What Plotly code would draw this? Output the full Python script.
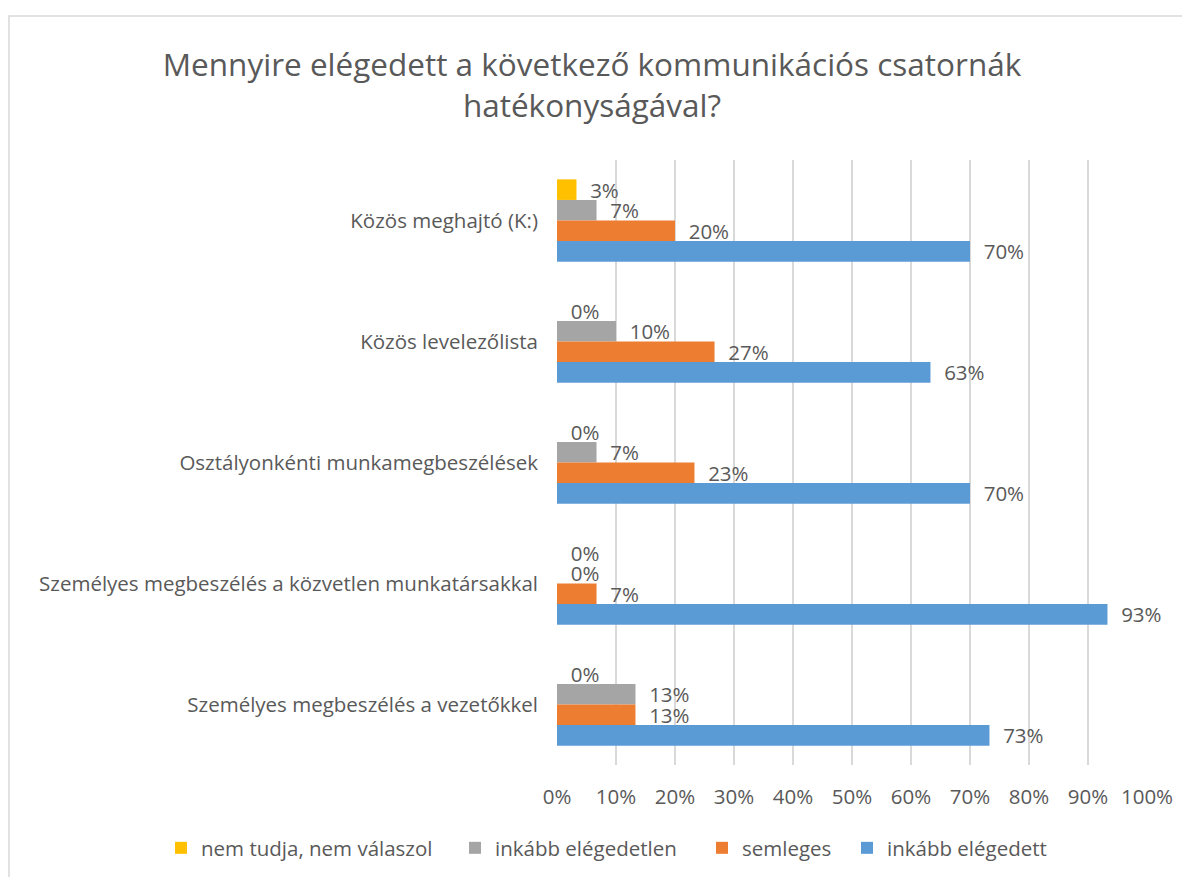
import plotly.graph_objects as go

categories = [
    "Közös meghajtó (K:)",
    "Közös levelezőlista",
    "Osztályonkénti munkamegbeszélések",
    "Személyes megbeszélés a közvetlen munkatársakkal",
    "Személyes megbeszélés a vezetőkkel",
]
series_names = ["nem tudja, nem válaszol", "inkább elégedetlen", "semleges", "inkább elégedett"]
nem_tudja = [3.3, 0, 0, 0, 0]
elegedetlen = [6.7, 10, 6.7, 0, 13.3]
semleges = [20, 26.7, 23.3, 6.7, 13.3]
elegedett = [70, 63.3, 70, 93.3, 73.3]
colors = ["#FFC000", "#A5A5A5", "#ED7D31", "#5B9BD5"]
tick_vals = [0, 10, 20, 30, 40, 50, 60, 70, 80, 90, 100]
tick_text = ["0%", "10%", "20%", "30%", "40%", "50%", "60%", "70%", "80%", "90%", "100%"]

FONT = "Open Sans"
TXT = "#595959"
FS = 20.5

# page has an 8px body offset; coordinates below are figure pixels
W, H = 1190, 877
L, T = 549, 152
pw, ph = 590, 605
R, B = W - L - pw, H - T - ph

legend_ids = ["legend", "legend2", "legend3", "legend4"]
legend_marker_left = [168, 462, 709, 854]

fig = go.Figure()
for name, vals, col, lid in zip(series_names, [nem_tudja, elegedetlen, semleges, elegedett], colors, legend_ids):
    fig.add_trace(go.Bar(
        y=categories, x=vals, name=name, orientation="h",
        marker=dict(color=col, line=dict(width=0)),
        texttemplate="\u00a0\u00a0%{x:.0f}%", textposition="outside",
        constraintext="none",
        textfont=dict(family=FONT, size=FS, color=TXT),
        cliponaxis=False, legend=lid,
    ))

legend_common = dict(
    orientation="h", xref="paper", yref="paper", xanchor="left",
    y=-(840 - (T + ph)) / ph, yanchor="middle",
    font=dict(family=FONT, size=FS, color=TXT), itemwidth=30,
    bgcolor="rgba(0,0,0,0)",
)
legends = {}
for lid, mx in zip(legend_ids, legend_marker_left):
    legends[lid] = dict(legend_common, x=(mx - 15 - L) / pw)

fig.update_layout(
    width=W, height=H,
    margin=dict(l=L, r=R, t=T, b=B),
    paper_bgcolor="white", plot_bgcolor="white",
    barmode="group", bargap=0.32, bargroupgap=0,
    font=dict(family=FONT, color=TXT, size=FS),
    title=dict(
        text="Mennyire elégedett a következő kommunikációs csatornák<br>hatékonyságával?",
        x=(592 - 8) / W, xanchor="center", xref="container",
        y=1 - 68 / H, yanchor="middle", yref="container",
        font=dict(family=FONT, size=31.5, color=TXT),
    ),
    xaxis=dict(
        range=[0, 100], tickvals=tick_vals, ticktext=tick_text,
        showgrid=True, gridcolor="#D9D9D9", gridwidth=1.5,
        zeroline=False, showline=False, ticks="",
        ticklabelstandoff=17,
        tickfont=dict(family=FONT, size=FS, color=TXT),
    ),
    yaxis=dict(
        autorange="reversed", showgrid=False, zeroline=False, showline=False,
        ticks="", ticklabelstandoff=18,
        tickfont=dict(family=FONT, size=FS, color=TXT),
    ),
    showlegend=True,
    **legends,
)

# chart border (partially cropped like the reference)
fig.add_shape(
    type="rect", xref="paper", yref="paper",
    x0=(1 - L) / pw, x1=(W + 20 - L) / pw,
    y0=-(H + 20 - (T + ph)) / ph, y1=(T + ph - 8) / ph,
    line=dict(color="#D9D9D9", width=1.5), fillcolor="rgba(0,0,0,0)", layer="below",
)

fig.write_html("out.html")
